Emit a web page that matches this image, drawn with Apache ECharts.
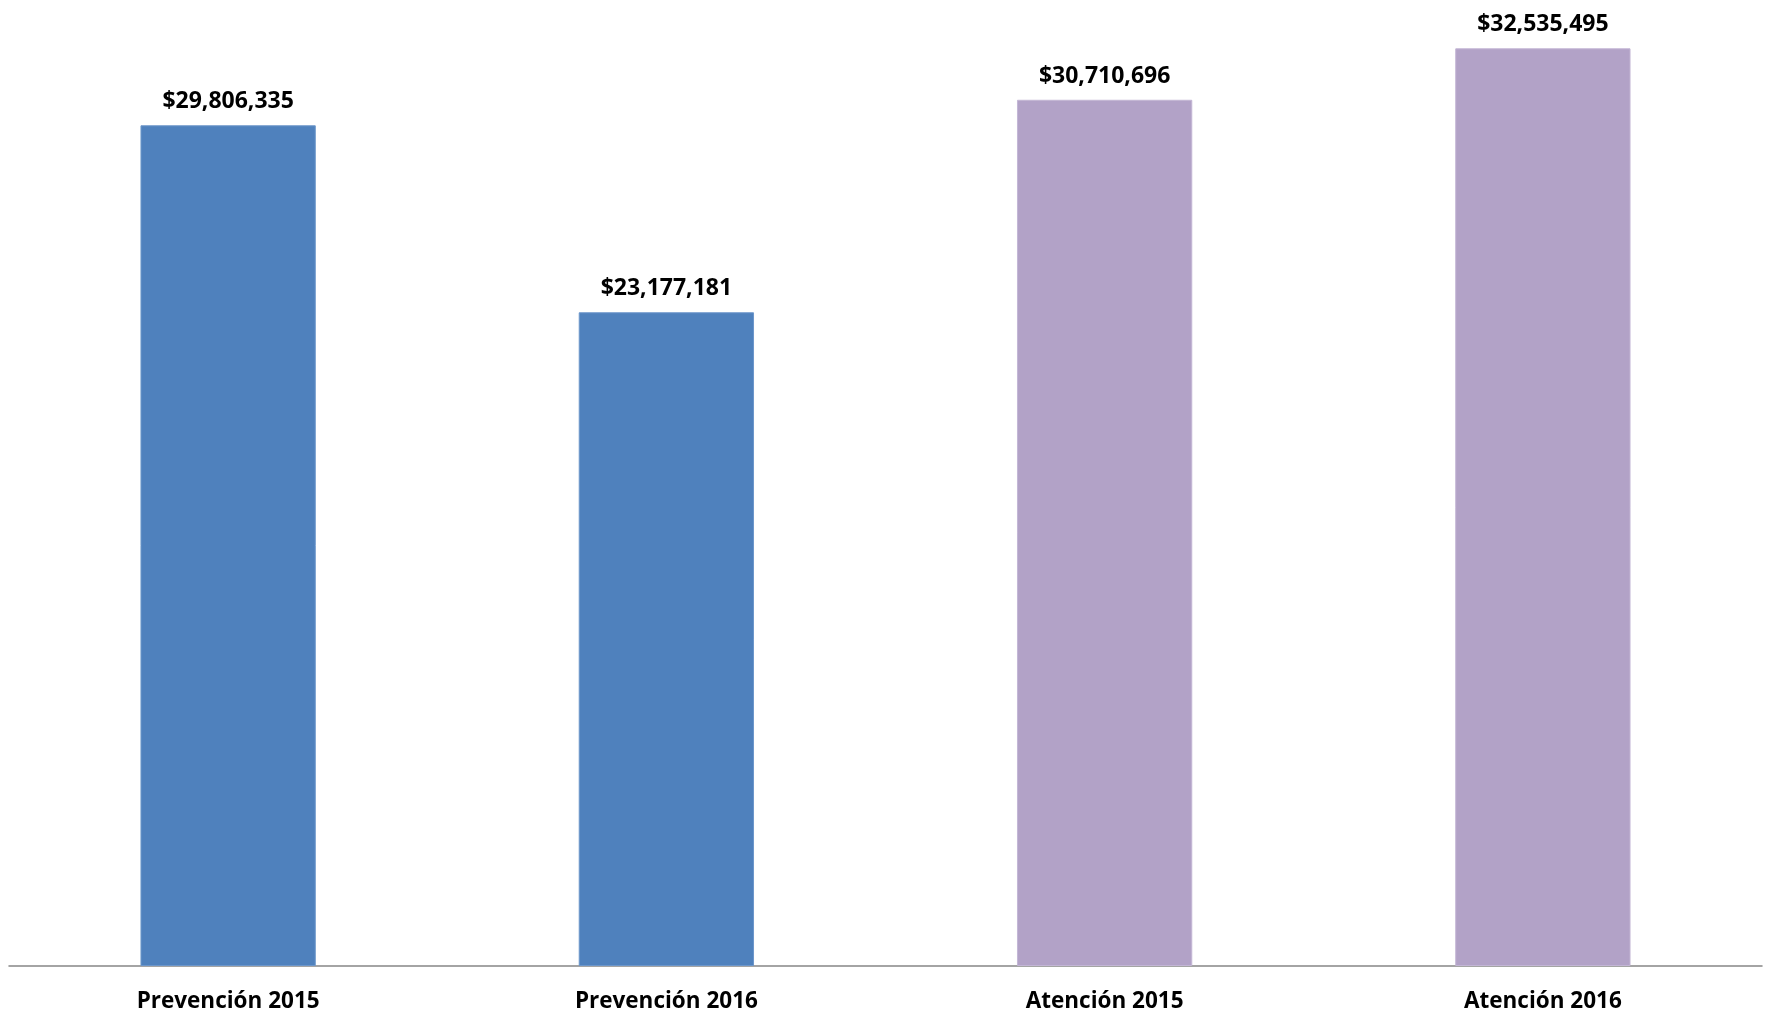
<!DOCTYPE html>
<html>
<head>
<meta charset="utf-8">
<title>Presupuesto Prevención y Atención 2015-2016</title>
<script src="https://cdn.jsdelivr.net/npm/echarts@6/dist/echarts.min.js"></script>
<style>
  html, body { margin: 0; padding: 0; background: #ffffff; }
  #chart { width: 1769px; height: 1015px; }
</style>
</head>
<body>
<div id="chart"></div>
<script>
// Categories and amounts (pesos)
const categories = ['Prevención 2015', 'Prevención 2016', 'Atención 2015', 'Atención 2016'];
const amounts = [29806335, 23177181, 30710696, 32535495];
// Program each bar belongs to
const programs = ['prevencion', 'prevencion', 'atencion', 'atencion'];

const programColors = {
  prevencion: { fill: '#4F81BD', border: '#6D97CB' },
  atencion: { fill: '#B2A2C7', border: '#C3B6D5' }
};

const fmtMoney = v => '$' + v.toLocaleString('en-US');
const fontFamily = '"Open Sans", "Liberation Sans", sans-serif';

const chart = echarts.init(document.getElementById('chart'), null, { renderer: 'canvas' });
chart.setOption({
  animation: false,
  backgroundColor: '#ffffff',
  grid: { left: 9, right: 7, top: 7, bottom: 49, containLabel: false },
  xAxis: {
    type: 'category',
    data: categories,
    axisLine: { show: true, lineStyle: { color: '#868686', width: 1.5 } },
    axisTick: { show: false },
    axisLabel: {
      color: '#000000',
      fontFamily: fontFamily,
      fontWeight: 'bold',
      fontSize: 22.5,
      margin: 24
    }
  },
  yAxis: {
    type: 'value',
    min: 0,
    max: 34000000,
    show: false,
    splitLine: { show: false }
  },
  series: [{
    type: 'bar',
    barWidth: '40%',
    data: amounts.map((v, i) => ({
      value: v,
      itemStyle: {
        color: programColors[programs[i]].fill,
        borderColor: programColors[programs[i]].border,
        borderWidth: 1
      }
    })),
    label: {
      show: true,
      position: 'top',
      distance: 12,
      formatter: p => fmtMoney(p.value),
      color: '#000000',
      fontFamily: fontFamily,
      fontWeight: 'bold',
      fontSize: 23
    }
  }]
});
</script>
</body>
</html>
